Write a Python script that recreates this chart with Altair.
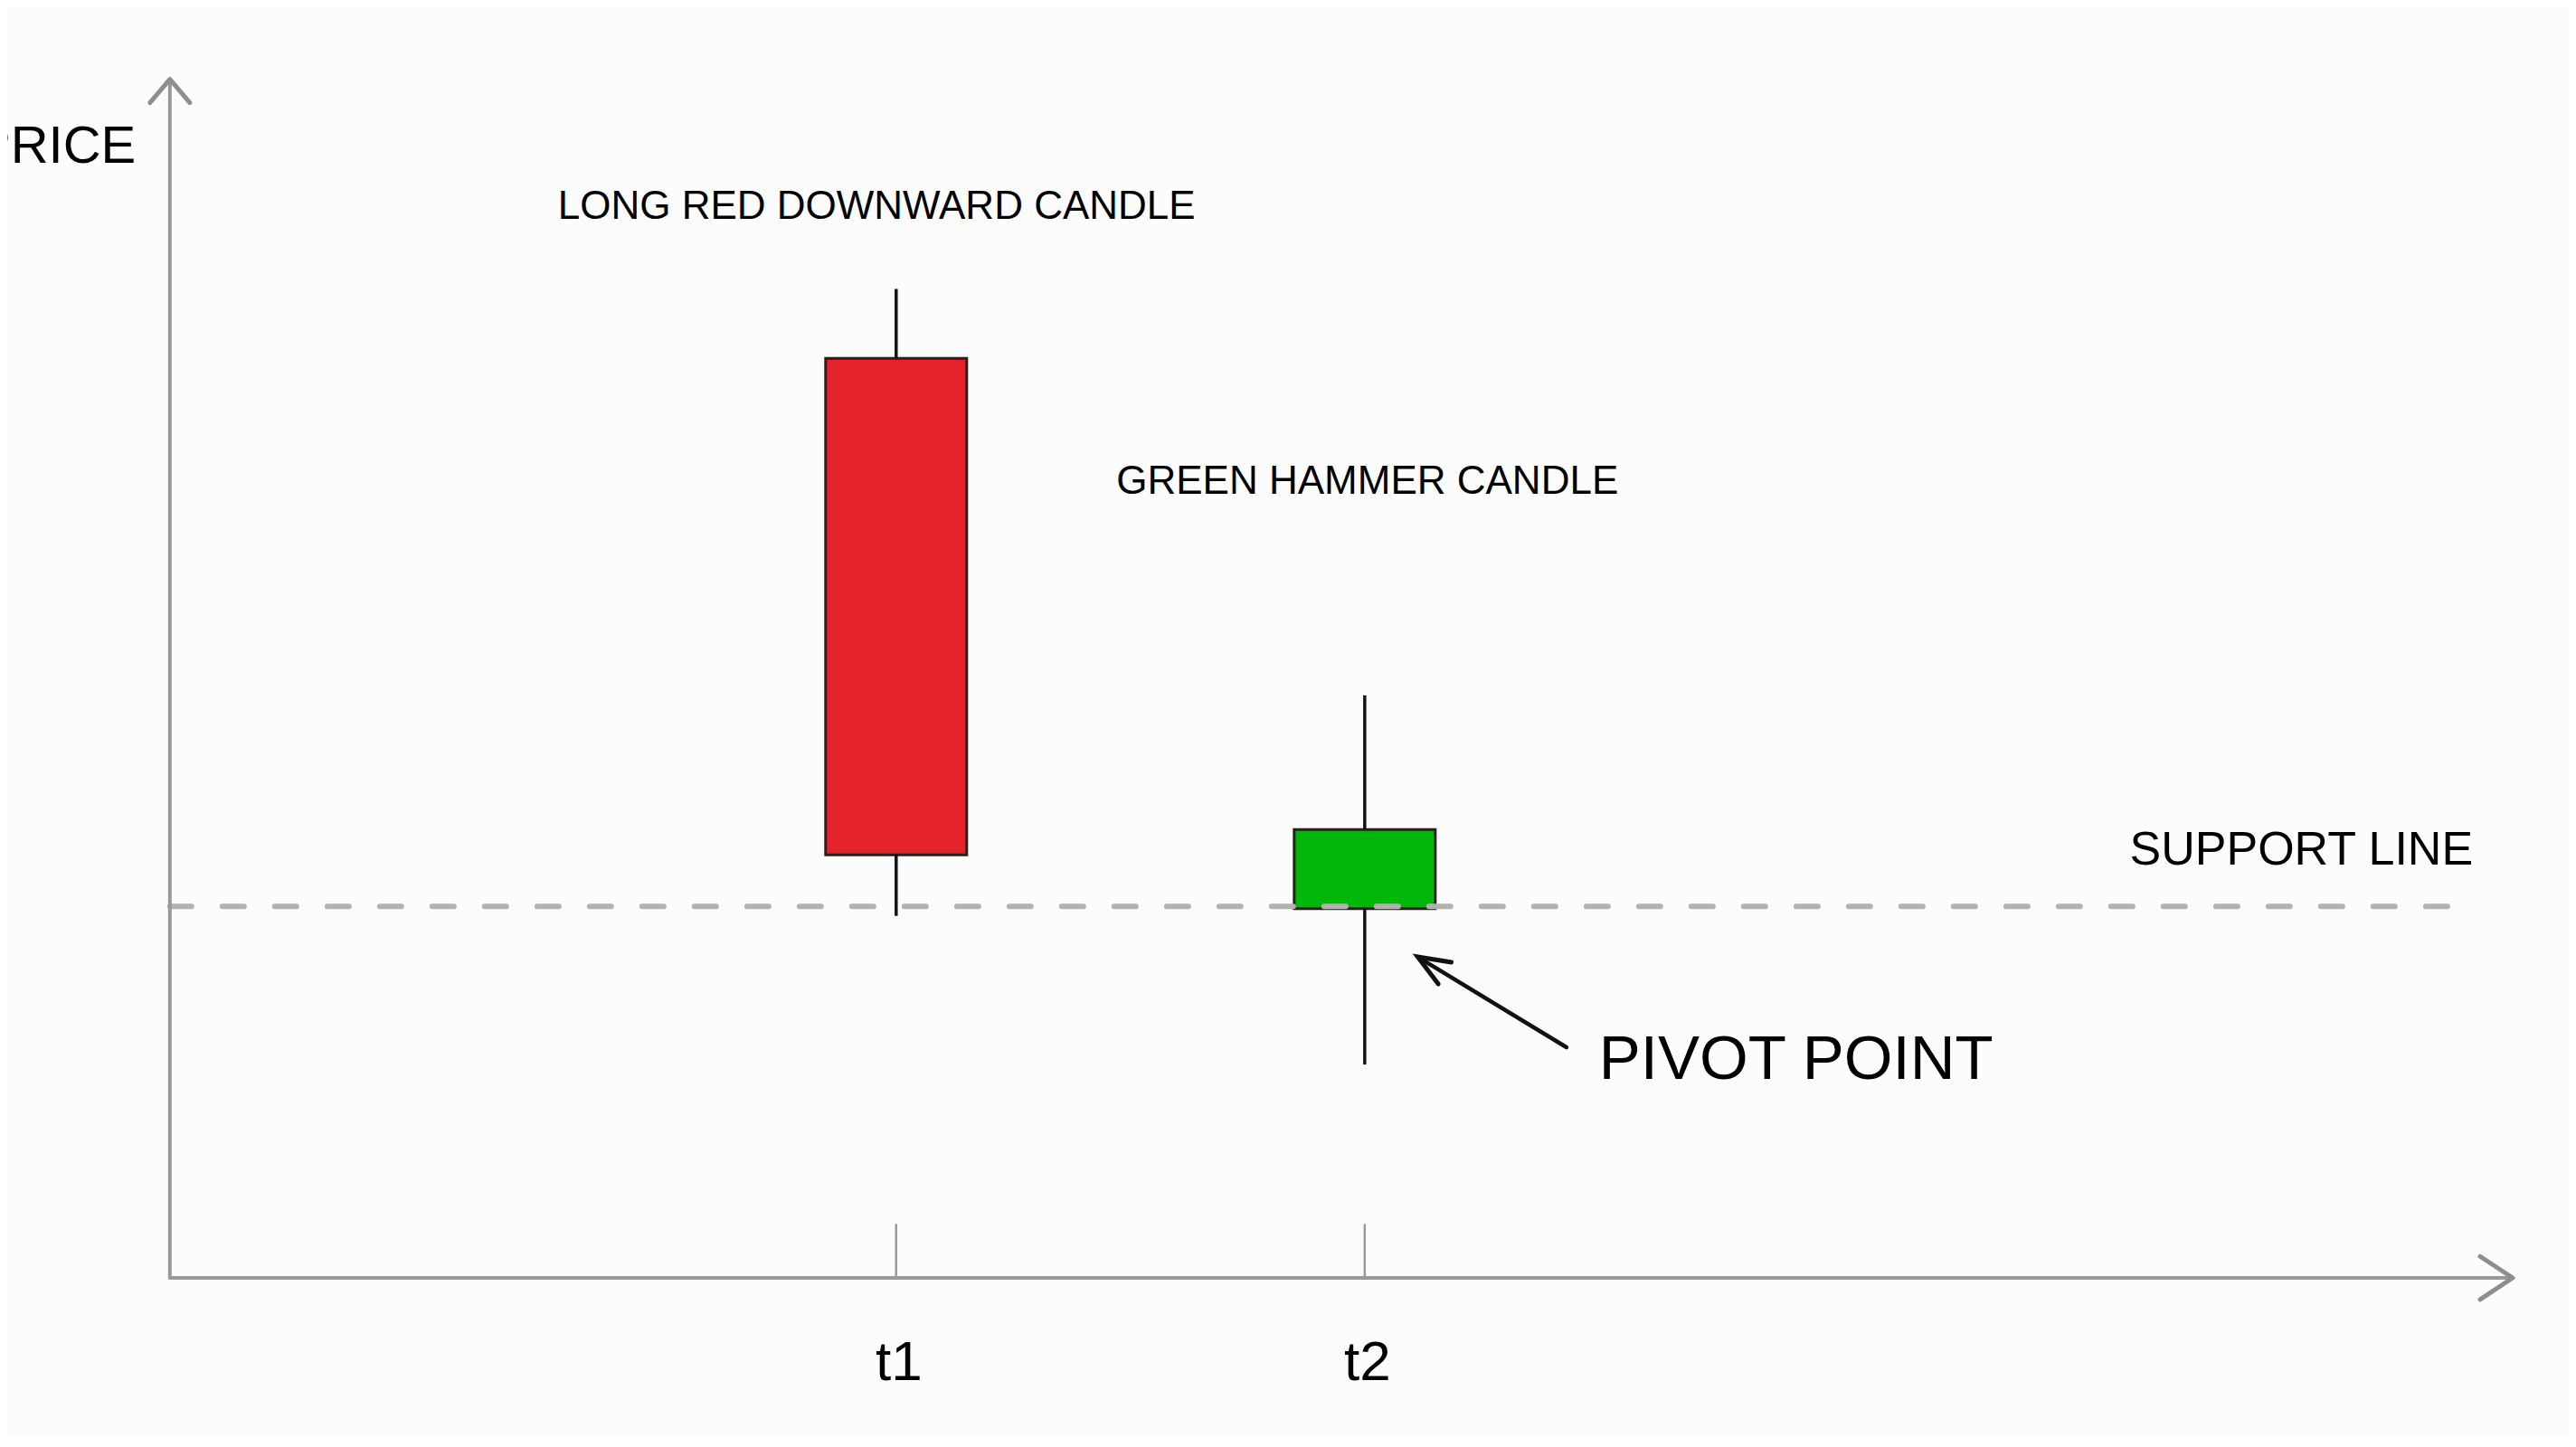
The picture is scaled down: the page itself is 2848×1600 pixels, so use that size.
import altair as alt
import pandas as pd

# ---- data ----
times = [3.1, 5.1]
time_labels = ["t1", "t2"]
kinds = ["down", "up"]
opens = [76.7, 30.8]
closes = [35.3, 37.4]
highs = [82.5, 48.6]
lows = [30.2, 17.8]

support_level = 31.0
support_end = 9.85
x_axis_end = 10.0
y_axis_end = 100.0
tick_top = 4.5

label_texts = ["LONG RED DOWNWARD CANDLE", "GREEN HAMMER CANDLE", "SUPPORT LINE", "PIVOT POINT"]
label_x = [1.656, 4.04, 8.365, 6.10]
label_y = [88.34, 65.41, 34.48, 16.6]
label_sizes = [44, 44, 52, 69]

axis_title = "PRICE"
axis_title_x = -0.145
axis_title_y = 93.0

time_label_y = -8.5

pivot_tip_x, pivot_tip_y = 5.326, 26.78
pivot_tail_x, pivot_tail_y = 5.961, 19.24

# ---- tables ----
candles = pd.DataFrame({
    "t": times, "label": time_labels, "kind": kinds,
    "open": opens, "close": closes, "high": highs, "low": lows,
})
candles["top"] = candles[["open", "close"]].max(axis=1)
candles["bot"] = candles[["open", "close"]].min(axis=1)

labels = pd.DataFrame({"text": label_texts, "x": label_x, "y": label_y, "size": label_sizes})

W, H = 2832, 1580
XS = alt.Scale(domain=[-0.675, 10.22], nice=False, zero=False)
YS = alt.Scale(domain=[-13.2, 106.0], nice=False, zero=False)
FONT = "Liberation Sans, Arial, Helvetica, sans-serif"

def X(field):
    return alt.X(field, type="quantitative", scale=XS, axis=None)

def Y(field):
    return alt.Y(field, type="quantitative", scale=YS, axis=None)

base = alt.Chart(candles)

bodies = base.mark_bar(size=156, stroke="#2a1e1e", strokeWidth=3).encode(
    x=X("t"), y=Y("open"), y2="close",
    color=alt.Color("kind:N", scale=alt.Scale(domain=["down", "up"], range=["#e42229", "#00b70a"]), legend=None),
)

support_df = pd.DataFrame({"x0": [0.0], "x1": [support_end], "y": [support_level]})
support = alt.Chart(support_df).mark_rule(
    color="#b2b2b2", strokeWidth=6, strokeDash=[24, 34], strokeCap="round"
).encode(x=X("x0"), x2="x1", y=Y("y"))

upper_wick = base.mark_rule(color="#141414", strokeWidth=3.5).encode(x=X("t"), y=Y("high"), y2="top")
lower_wick = base.mark_rule(color="#141414", strokeWidth=3.5).encode(x=X("t"), y=Y("bot"), y2="low")

axes_df = pd.DataFrame({"x0": [0.0, 0.0], "x1": [x_axis_end, 0.0], "y0": [0.0, 0.0], "y1": [0.0, y_axis_end]})
axis_lines = alt.Chart(axes_df).mark_rule(color="#999999", strokeWidth=4, strokeCap="round").encode(
    x=X("x0"), x2="x1", y=Y("y0"), y2="y1"
)

ticks_df = pd.DataFrame({"t": times, "y0": [0.0, 0.0], "y1": [tick_top, tick_top]})
ticks = alt.Chart(ticks_df).mark_rule(color="#9a9a9a", strokeWidth=2.5).encode(x=X("t"), y=Y("y0"), y2="y1")

x_head = alt.Chart(pd.DataFrame({"x": [x_axis_end], "y": [0.0]})).mark_point(
    shape="M-1,-0.66L0,0L-1,0.66", size=5184, filled=False, color="#8e8e8e",
    strokeWidth=5, opacity=1, strokeCap="round", strokeJoin="round"
).encode(x=X("x"), y=Y("y"))

y_head = alt.Chart(pd.DataFrame({"x": [0.0], "y": [y_axis_end]})).mark_point(
    shape="M-1,-0.85L0,0L-1,0.85", size=2700, filled=False, color="#8e8e8e",
    strokeWidth=5, opacity=1, angle=270, strokeCap="round", strokeJoin="round"
).encode(x=X("x"), y=Y("y"))

pivot_df = pd.DataFrame({"x0": [pivot_tail_x], "y0": [pivot_tail_y], "x1": [pivot_tip_x], "y1": [pivot_tip_y]})
pivot_shaft = alt.Chart(pivot_df).mark_rule(color="#111111", strokeWidth=4.5, strokeCap="round").encode(
    x=X("x0"), y=Y("y0"), x2="x1", y2="y1"
)
pivot_head = alt.Chart(pivot_df).mark_point(
    shape="M-1,-0.4L0,0L-1,0.4", size=4900, filled=False, color="#111111",
    strokeWidth=5, opacity=1, angle=211, strokeCap="round", strokeJoin="miter"
).encode(x=X("x1"), y=Y("y1"))

texts = alt.Chart(labels).mark_text(
    align="left", baseline="alphabetic", font=FONT, color="#000000"
).encode(x=X("x"), y=Y("y"), text="text:N", size=alt.Size("size:Q", scale=None, legend=None))

time_text = base.mark_text(
    align="center", baseline="alphabetic", font=FONT, fontSize=62, color="#000000", dx=3
).encode(x=X("t"), y=alt.Y(datum=time_label_y, type="quantitative", scale=YS, axis=None), text="label:N")

title_text = alt.Chart(pd.DataFrame({"x": [axis_title_x], "y": [axis_title_y], "text": [axis_title]})).mark_text(
    align="right", baseline="alphabetic", font=FONT, fontSize=58, color="#000000"
).encode(x=X("x"), y=Y("y"), text="text:N")

chart = alt.layer(
    bodies, support, upper_wick, lower_wick, axis_lines, ticks, x_head, y_head,
    pivot_shaft, pivot_head, texts, time_text, title_text
).properties(
    width=W, height=H, padding=0,
    autosize=alt.AutoSizeParams(type="none"),
    background="#fcfcfc",
).configure_view(stroke=None)

chart.save("out.html", embed_options={"renderer": "svg", "actions": False})
